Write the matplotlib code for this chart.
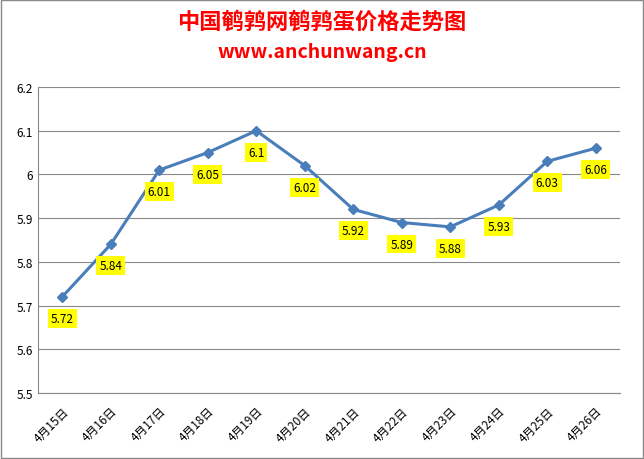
import matplotlib
matplotlib.use("Agg")
import matplotlib.pyplot as plt

dates = ["4月15日","4月16日","4月17日","4月18日","4月19日","4月20日","4月21日","4月22日","4月23日","4月24日","4月25日","4月26日"]
prices = [5.72,5.84,6.01,6.05,6.1,6.02,5.92,5.89,5.88,5.93,6.03,6.06]
yticks = [5.5,5.6,5.7,5.8,5.9,6.0,6.1,6.2]
ylabels = ["5.5","5.6","5.7","5.8","5.9","6","6.1","6.2"]

plt.rcParams['font.family'] = ['Noto Sans CJK SC', 'DejaVu Sans']
fig = plt.figure(figsize=(6.44,4.60), dpi=100)
fig.patches.append(plt.Rectangle((0.002,0.002),0.996,0.996,transform=fig.transFigure,fill=False,ec='#888888',lw=1))
ax = fig.add_axes([38/644, 1-394/460, 582/644, (394-88)/460])
x = list(range(len(dates)))
ax.plot(x, prices, color='#4a7ebb', lw=2.2, marker='D', ms=5.5)
ax.set_xlim(-0.5, len(dates)-0.5)
ax.set_ylim(5.5, 6.2)
ax.set_yticks(yticks)
ax.set_yticklabels(ylabels, fontsize=8.5)
ax.set_xticks(x)
ax.set_xticklabels(dates, rotation=45, ha='right', rotation_mode='anchor', fontsize=8.5)
ax.tick_params(length=0, axis='x', pad=8)
ax.tick_params(length=0, axis='y')
ax.yaxis.grid(True, color='#888888', lw=0.8)
for s in ['top','right']:
    ax.spines[s].set_visible(False)
for s in ['left','bottom']:
    ax.spines[s].set_color('#888888')
for xi, p in zip(x, prices):
    ax.annotate(f"{p:g}", (xi, p), xytext=(0, -15.5), textcoords='offset points', ha='center', va='center',
                fontsize=8.5, bbox=dict(boxstyle='square,pad=0.25', fc='#ffff00', ec='none'))
fig.text(0.5, 1-22/460, "中国鹌鹑网鹌鹑蛋价格走势图", color='red', fontsize=16, ha='center', va='center', fontweight='bold')
fig.text(0.5, 1-53/460, "www.anchunwang.cn", color='red', fontsize=14, ha='center', va='center', fontweight='bold')
fig.savefig("out.png")
